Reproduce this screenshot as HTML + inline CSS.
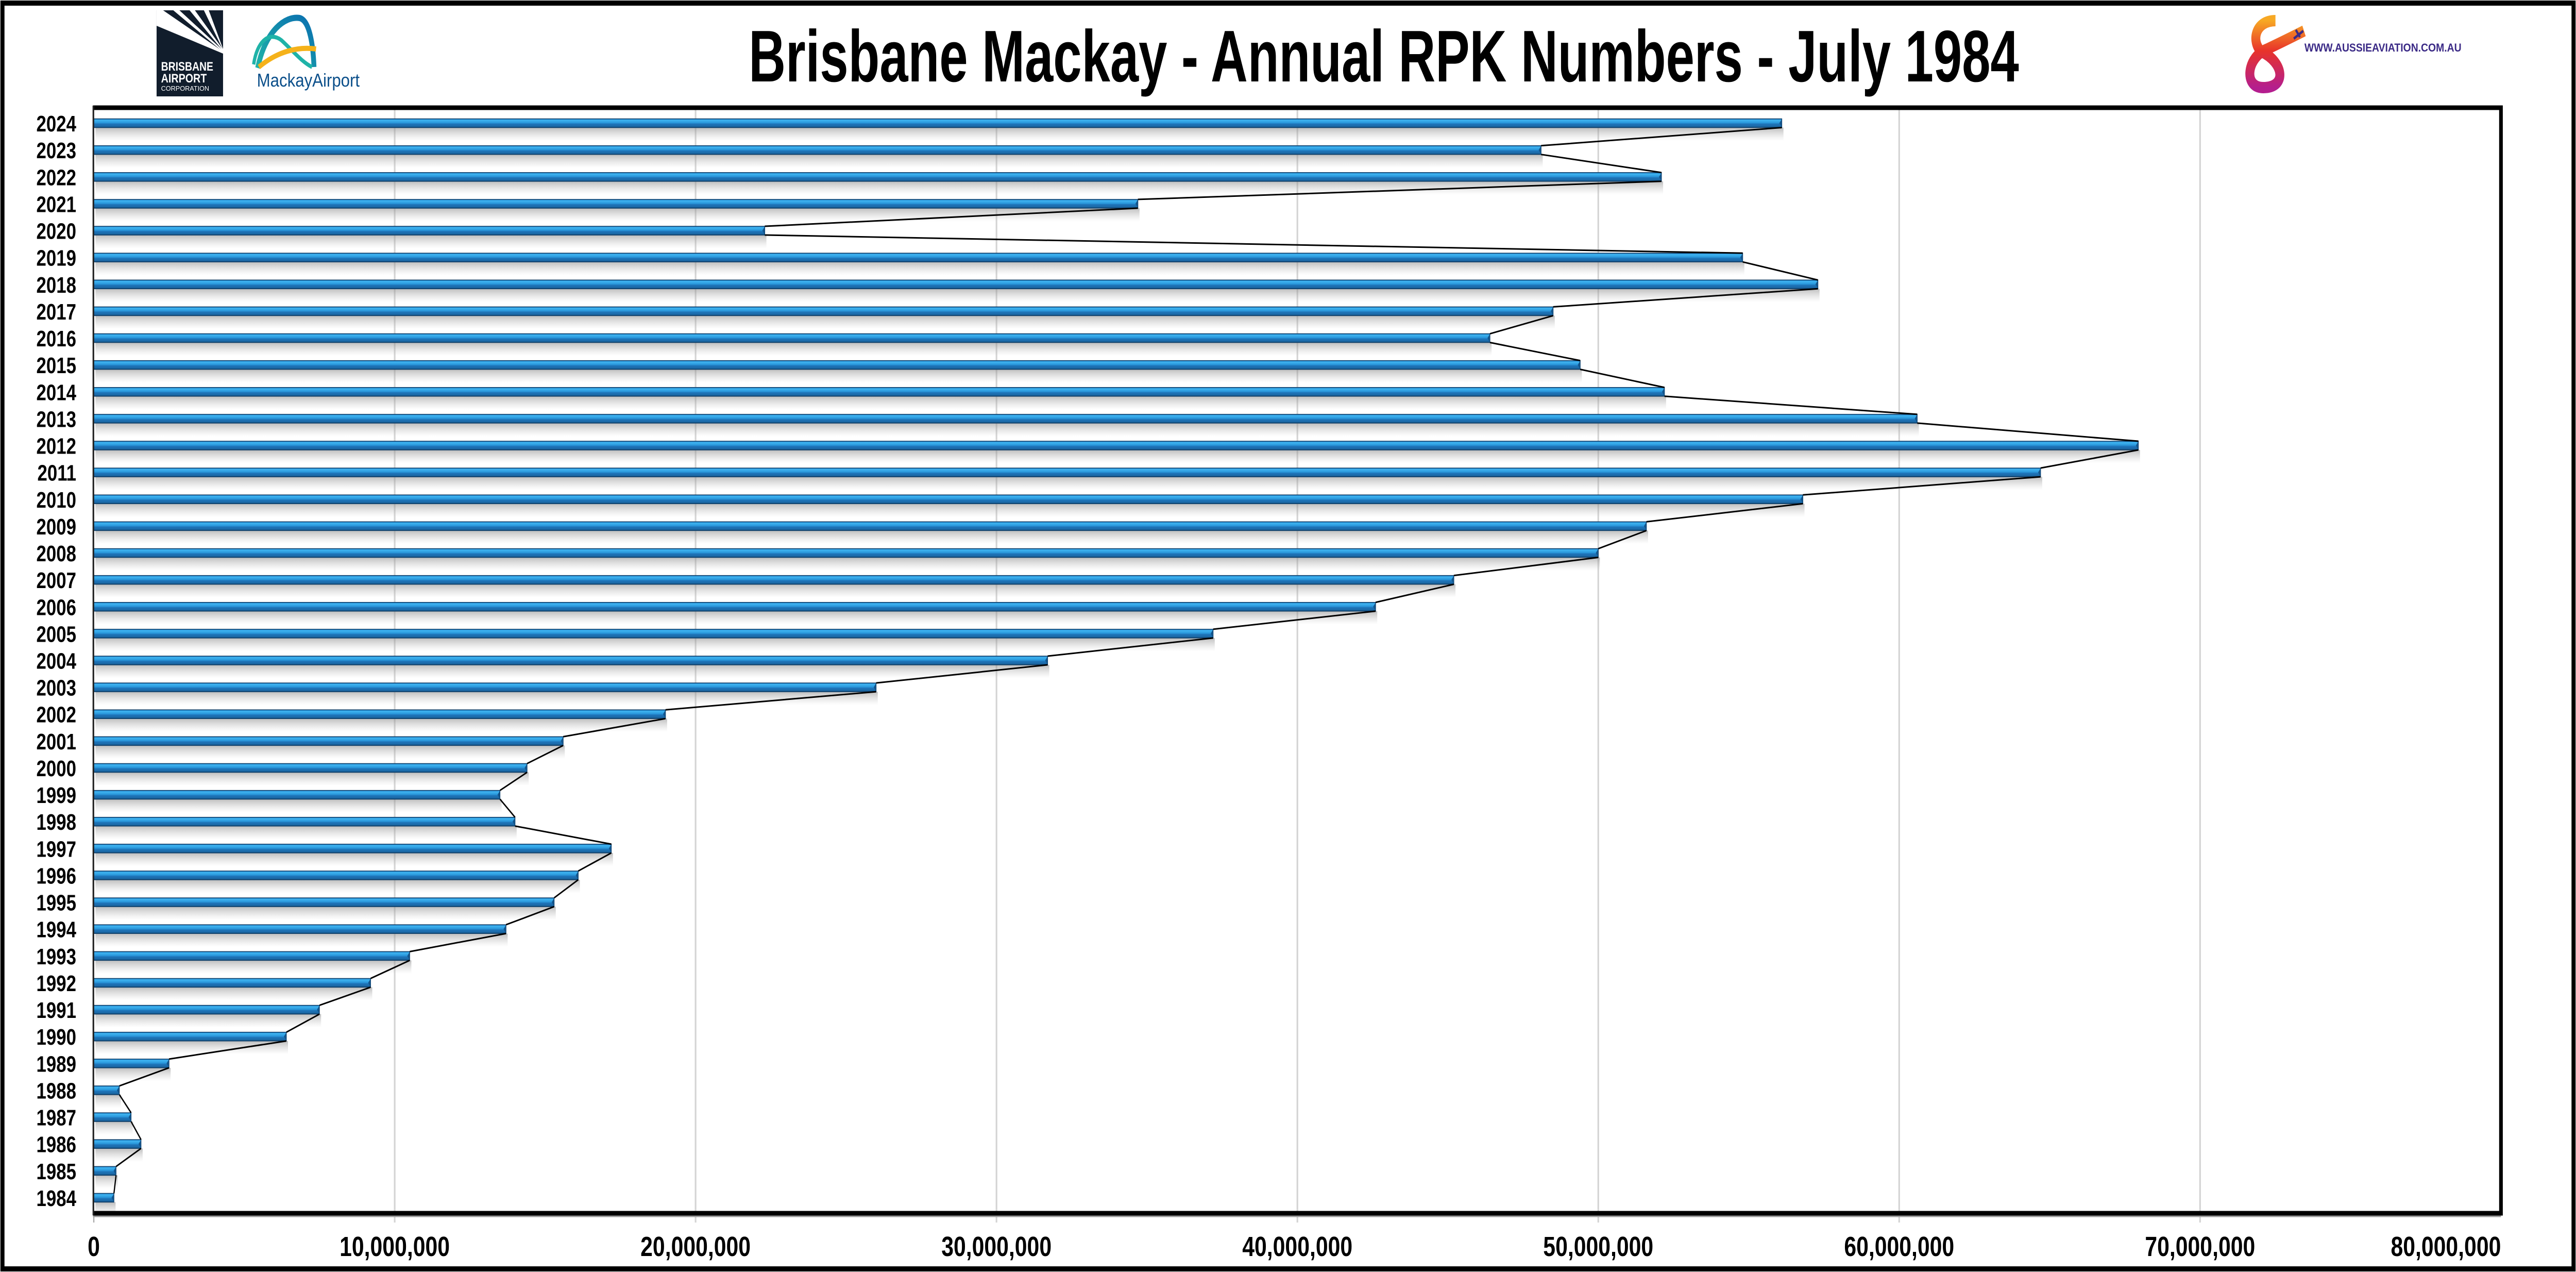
<!DOCTYPE html>
<html><head><meta charset="utf-8">
<style>
html,body{margin:0;padding:0;background:#fff;width:100%;height:100%;overflow:hidden;}
#wrap{width:100vw;height:100vh;overflow:hidden;position:relative;}
svg{display:block;width:100vw;height:100vh;}
text{font-family:"Liberation Sans",Arial,sans-serif;}
</style></head>
<body>
<div id="wrap">
<svg id="chart" viewBox="0 0 6317 2468" preserveAspectRatio="none" overflow="hidden" xmlns="http://www.w3.org/2000/svg">
<defs>
<linearGradient id="barGrad" x1="0" y1="0" x2="0" y2="1">
<stop offset="0" stop-color="#1a78c8"/>
<stop offset="0.15" stop-color="#3fb4f0"/>
<stop offset="0.45" stop-color="#2a98dc"/>
<stop offset="0.6" stop-color="#1e73b8"/>
<stop offset="0.85" stop-color="#1b6aa8"/>
<stop offset="1" stop-color="#154a78"/>
</linearGradient>
<linearGradient id="shadowGrad" x1="0" y1="0" x2="0" y2="1">
<stop offset="0" stop-color="#888" stop-opacity="0.55"/>
<stop offset="1" stop-color="#bbb" stop-opacity="0"/>
</linearGradient>
<linearGradient id="mackA" x1="0" y1="1" x2="1" y2="0"><stop offset="0" stop-color="#1fb3a8"/><stop offset="1" stop-color="#0a6fb0"/></linearGradient>
<linearGradient id="aussie" x1="0" y1="0" x2="0" y2="1"><stop offset="0" stop-color="#f7a824"/><stop offset="0.45" stop-color="#e8332a"/><stop offset="1" stop-color="#b41e8e"/></linearGradient>
</defs>
<rect x="0" y="0" width="6317" height="2468" fill="#fff"/>
<rect x="6" y="6" width="6305" height="2456" fill="none" stroke="#000" stroke-width="10"/>

<g>
<rect x="384" y="20" width="163" height="167" fill="#111d2c"/>
<polygon points="384,20 400,20 547,100 547,104 384,50" fill="#fff"/>
<polygon points="425,20 440,20 547,98 547,101" fill="#fff"/>
<polygon points="465,20 478,20 547,96 547,99" fill="#fff"/>
<polygon points="500,20 512,20 547,95 547,97" fill="#fff"/>
<text x="395" y="137" font-size="24" font-weight="bold" fill="#fff" textLength="128" lengthAdjust="spacingAndGlyphs">BRISBANE</text>
<text x="395" y="160" font-size="24" font-weight="bold" fill="#fff" textLength="112" lengthAdjust="spacingAndGlyphs">AIRPORT</text>
<text x="395" y="176" font-size="13" fill="#fff" textLength="118" lengthAdjust="spacingAndGlyphs">CORPORATION</text>
</g>
<g>
<path d="M632,132 C650,60 700,30 735,35 C760,40 768,90 770,130" fill="none" stroke="url(#mackA)" stroke-width="12"/>
<path d="M622,125 C630,80 660,60 690,78 C720,100 740,120 765,130" fill="none" stroke="#1fb3a8" stroke-width="8"/>
<path d="M635,130 C680,100 730,90 775,95" fill="none" stroke="#f5b21a" stroke-width="10"/>
<text x="630" y="168" font-size="36" fill="#0b4f8a" textLength="252" lengthAdjust="spacingAndGlyphs">MackayAirport</text>
</g>
<g>
<path d="M5580,40 C5530,40 5520,80 5545,100 C5600,120 5610,170 5550,170 C5500,170 5510,110 5560,95 C5600,80 5620,72 5650,60" fill="none" stroke="url(#aussie)" stroke-width="22"/>
<path d="M5625,75 L5648,60 M5630,58 L5640,72" stroke="#3b2a86" stroke-width="5"/>
<text x="5651" y="100" font-size="22" font-weight="bold" fill="#3b2a86" textLength="385" lengthAdjust="spacingAndGlyphs">WWW.AUSSIEAVIATION.COM.AU</text>
</g>

<text x="1836" y="158" font-size="142" font-weight="bold" fill="#000" textLength="3115" lengthAdjust="spacingAndGlyphs">Brisbane Mackay - Annual RPK Numbers - July 1984</text>

<g id="grid"></g>
<g id="bars"></g>
<g id="frame"></g>
<g id="labels"></g>
</svg>
</div>
<script>
const years = [1984,1985,1986,1987,1988,1989,1990,1991,1992,1993,1994,1995,1996,1997,1998,1999,2000,2001,2002,2003,2004,2005,2006,2007,2008,2009,2010,2011,2012,2013,2014,2015,2016,2017,2018,2019,2020,2021,2022,2023,2024];
const rpk = [670000,740000,1570000,1240000,850000,2500000,6400000,7500000,9200000,10500000,13700000,15300000,16100000,17200000,14000000,13500000,14400000,15600000,19000000,26000000,31700000,37200000,42600000,45200000,50000000,51600000,56800000,64700000,67950000,60600000,52200000,49400000,46400000,48500000,57300000,54800000,22300000,34700000,52100000,48100000,56100000];
const xTicks = [0,10000000,20000000,30000000,40000000,50000000,60000000,70000000,80000000];
const xTickLabels = ["0","10,000,000","20,000,000","30,000,000","40,000,000","50,000,000","60,000,000","70,000,000","80,000,000"];

const NS="http://www.w3.org/2000/svg";
const X0=230, X1=6133, XMAX=80000000;
const TOP=213, BOT=2350;
function xs(v){return X0+(v/XMAX)*(X1-X0);}
const band=(BOT-TOP)/years.length;
function yc(i){return BOT-band*(i+0.5);}
function mk(tag,attrs,parent){const e=document.createElementNS(NS,tag);for(const k in attrs)e.setAttribute(k,attrs[k]);parent.appendChild(e);return e;}
const grid=document.getElementById('grid'),bars=document.getElementById('bars'),frame=document.getElementById('frame'),labels=document.getElementById('labels');

xTicks.forEach((t,i)=>{
  const x=xs(t);
  if(i>0&&i<xTicks.length-1){
    const g=mk('line',{x1:x,y1:TOP,x2:x,y2:2372,stroke:'#d4d4d4','stroke-width':4},grid);
    
    
  } else if(i===0){
    mk('line',{x1:x,y1:BOT,x2:x,y2:2372,stroke:'#aaa','stroke-width':3},grid);
  }
  const last = i===xTicks.length-1;
  const tl=mk('text',{x:x,y:2437,'font-size':54,'font-weight':'bold','text-anchor':last?'end':'middle',fill:'#000'},labels);
  tl.textContent=xTickLabels[i];
  
  
});

const BH=17;
years.forEach((yr,i)=>{
  const y=yc(i), xe=xs(rpk[i]);
  mk('rect',{x:X0+4,y:y+BH/2,width:Math.max(0,xe-X0),height:26,fill:'url(#shadowGrad)'},bars);
  const r=mk('rect',{x:X0,y:y-BH/2,width:xe-X0,height:BH,fill:'url(#barGrad)',stroke:'#0e3d66','stroke-width':1.5},bars);
  
  
  mk('polygon',{points:`${xe-6},${y} ${xe},${y-BH/2} ${xe},${y+BH/2}`,fill:'#14558c'},bars);
  const lb=mk('text',{x:187,y:y+16,'font-size':44,'font-weight':'bold','text-anchor':'end',fill:'#000'},labels);
  lb.textContent=yr;
  
  
});
for(let i=years.length-1;i>0;i--){
  const l=mk('line',{x1:xs(rpk[i]),y1:yc(i)+BH/2,x2:xs(rpk[i-1]),y2:yc(i-1)-BH/2,stroke:'#000','stroke-width':3},bars);
  
  
}
const fr=mk('path',{d:`M${X0-2},${TOP-4} H${X1} V${BOT+4} H${X0-2}`,fill:'none',stroke:'#000','stroke-width':9},frame);


mk('line',{x1:X0-1,y1:TOP-8,x2:X0-1,y2:BOT+8,stroke:'#222','stroke-width':4},frame);
mk('line',{x1:X0-2,y1:BOT+10,x2:X1,y2:BOT+10,stroke:'#999','stroke-width':3},frame);
</script>
</body></html>
